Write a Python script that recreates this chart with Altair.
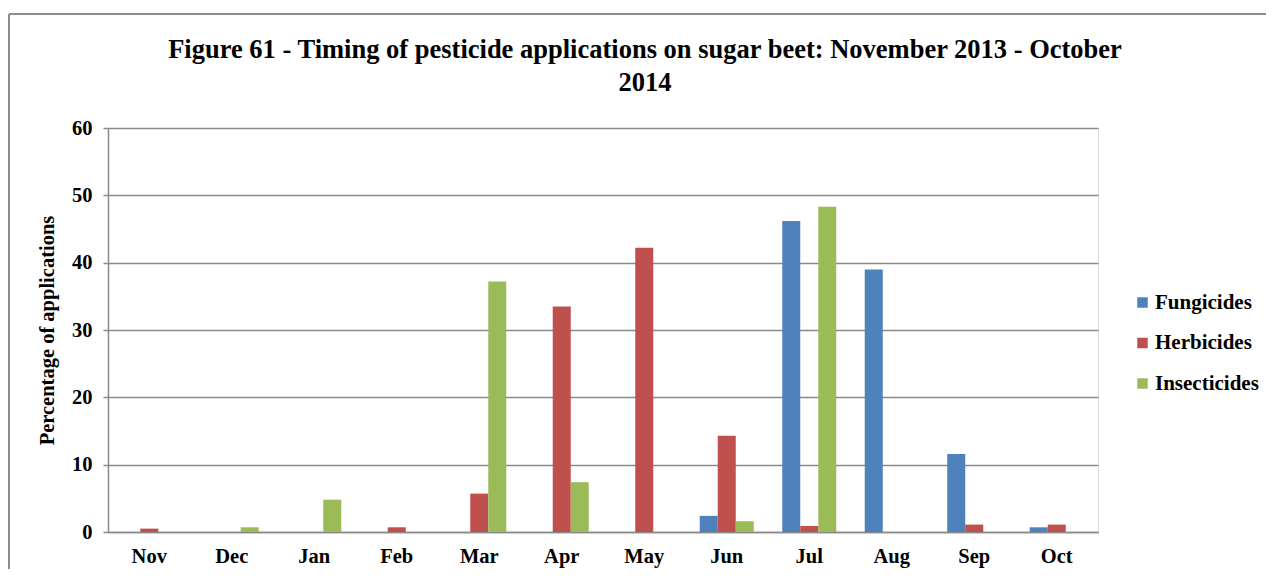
import altair as alt
import pandas as pd

months = ["Nov", "Dec", "Jan", "Feb", "Mar", "Apr", "May", "Jun", "Jul", "Aug", "Sep", "Oct"]
types = ["Fungicides", "Herbicides", "Insecticides"]
fungicides = [0, 0, 0, 0, 0, 0, 0, 2.4, 46.2, 39.0, 11.6, 0.7]
herbicides = [0.5, 0, 0, 0.7, 5.7, 33.5, 42.2, 14.3, 0.9, 0, 1.1, 1.1]
insecticides = [0, 0.7, 4.8, 0, 37.2, 7.4, 0, 1.6, 48.3, 0, 0, 0]
colors = ["#4F81BD", "#C0504D", "#9BBB59"]
y_ticks = [0, 10, 20, 30, 40, 50, 60]
title_lines = ["Figure 61 - Timing of pesticide applications on sugar beet: November 2013 - October", "2014"]

rows = []
for t, vals in zip(types, [fungicides, herbicides, insecticides]):
    for m, v in zip(months, vals):
        rows.append({"Month": m, "Type": t, "Value": v})
df = pd.DataFrame(rows)

FONT = "Liberation Serif"
GRID = "#8a8a8a"

bars = alt.Chart(df).mark_bar().encode(
    x=alt.X("Month:N", sort=months,
            scale=alt.Scale(paddingInner=0.345, paddingOuter=0.1725),
            axis=alt.Axis(title=None, labelAngle=0, ticks=False, labelPadding=14,
                          labelFont=FONT, labelFontSize=20.5, labelFontWeight="bold",
                          labelColor="black", domainColor=GRID, domainWidth=1.5)),
    xOffset=alt.XOffset("Type:N", sort=types,
                        scale=alt.Scale(paddingInner=0, paddingOuter=0)),
    y=alt.Y("Value:Q", scale=alt.Scale(domain=[0, 60], nice=False),
            axis=alt.Axis(values=y_ticks, title="Percentage of applications",
                          titleFont=FONT, titleFontSize=20.5, titleFontWeight="bold",
                          titleColor="black", titlePadding=14,
                          labelFont=FONT, labelFontSize=20.5, labelFontWeight="bold",
                          labelColor="black", labelPadding=11,
                          tickSize=5, tickColor=GRID, tickWidth=1.5,
                          domainColor=GRID, domainWidth=1.5,
                          grid=True, gridColor=GRID, gridWidth=1.5)),
    color=alt.Color("Type:N", sort=types,
                    scale=alt.Scale(domain=types, range=colors),
                    legend=alt.Legend(title=None, orient="none", legendX=1024, legendY=164,
                                      symbolType="square", symbolSize=110,
                                      symbolStrokeWidth=0,
                                      labelFont=FONT, labelFontSize=21,
                                      labelFontWeight="bold", labelColor="black",
                                      rowPadding=18.5, labelOffset=2)),
)

one = pd.DataFrame({"a": [0]})
left_border = alt.Chart(one).mark_rule(color="#8c8c8c", strokeWidth=2).encode(
    x=alt.value(-99), y=alt.value(-114), y2=alt.value(700))
top_border = alt.Chart(one).mark_rule(color="#8c8c8c", strokeWidth=2).encode(
    x=alt.value(-99), x2=alt.value(1400), y=alt.value(-114))

title_df = pd.DataFrame({"line": title_lines, "idx": [0, 1]})
title = alt.Chart(title_df).mark_text(
    font=FONT, fontSize=26.5, fontWeight="bold", color="black",
    align="center", baseline="middle").encode(
    text="line:N",
    x=alt.value(537),
    y=alt.Y("idx:Q", scale=alt.Scale(domain=[0, 1], range=[-78, -45]), axis=None),
)

chart = alt.layer(bars, left_border, top_border, title).resolve_scale(y="independent").properties(
    width=990, height=404,
    padding={"left": 100, "top": 120, "right": 168, "bottom": 37},
    autosize=alt.AutoSizeParams(type="none"),
).configure_view(strokeWidth=0).configure(background="white")

chart.save("out.html", embed_options={"renderer": "svg", "actions": False})
